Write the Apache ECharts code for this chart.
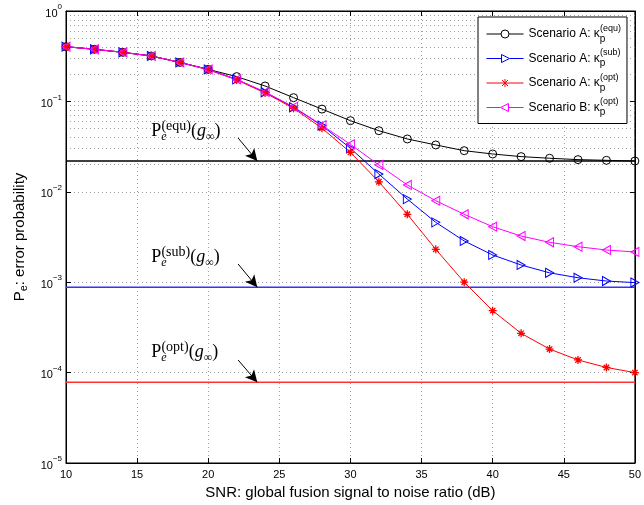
<!DOCTYPE html>
<html>
<head>
<meta charset="utf-8">
<script src="https://cdn.jsdelivr.net/npm/echarts@6/dist/echarts.min.js"></script>
<style>
  html, body { margin: 0; padding: 0; background: #fff; }
  #chart { width: 644px; height: 505px; }
</style>
</head>
<body>
<div id="chart"></div>
<script>
// 数据 - 读图估计
var snr = [10, 12, 14, 16, 18, 20, 22, 24, 26, 28, 30, 32, 34, 36, 38, 40, 42, 44, 46, 48, 50];

var equA = [0.403, 0.377, 0.349, 0.318, 0.270, 0.226, 0.188, 0.148, 0.110, 0.0822, 0.0612,
            0.0474, 0.0384, 0.0330, 0.0285, 0.0262, 0.0245, 0.0235, 0.0227, 0.0223, 0.0219];
var subA = [0.403, 0.377, 0.349, 0.318, 0.270, 0.226, 0.175, 0.126, 0.086, 0.054, 0.0303,
            0.0157, 0.0083, 0.00459, 0.00286, 0.0020, 0.00155, 0.00127, 0.00112, 0.00103, 0.00099];
var optA = [0.403, 0.377, 0.349, 0.318, 0.270, 0.224, 0.173, 0.124, 0.084, 0.0505, 0.0273,
            0.0129, 0.00564, 0.00231, 0.00100, 0.000484, 0.000272, 0.000182, 0.000138, 0.000114, 0.000100];
var optB = [0.403, 0.377, 0.349, 0.318, 0.270, 0.226, 0.175, 0.127, 0.087, 0.0545, 0.0335,
            0.0198, 0.0119, 0.00797, 0.00564, 0.00411, 0.00324, 0.00276, 0.00247, 0.00227, 0.00216];

// 渐近线 P_e(g_inf)
var limitNames = ['equ', 'sub', 'opt'];
var limitValues = [0.0219, 0.00088, 0.000078];
var limitColors = ['#000000', '#3333ff', '#ff3333'];

// 注释文字位置 + 箭头起止
var noteX = 16;
var noteY = [0.0365, 0.00147, 0.000131];
var arrowFromX = 22.1, arrowToX = 23.45;
var arrowFromY = [0.0394, 0.00159, 0.000138];

var xTicks = [10, 15, 20, 25, 30, 35, 40, 45, 50];
var yDecades = [-5, -4, -3, -2, -1, 0];

function pairs(ys) {
    var out = [];
    for (var i = 0; i < snr.length; i++) out.push([snr[i], ys[i]]);
    return out;
}

// 对数轴次网格 2..9
var minorGrid = [];
for (var d = 0; d < yDecades.length - 1; d++) {
    for (var m = 2; m <= 9; m++) {
        minorGrid.push({ yAxis: m * Math.pow(10, yDecades[d]) });
    }
}

var gridDot = { color: '#a0a0a0', width: 1, type: [1, 3] };
var font = 'Liberation Sans, Arial, sans-serif';

var legendRich = {
    t: { fontSize: 12, fontFamily: font, color: '#000', lineHeight: 20, verticalAlign: 'middle' },
    p: { fontSize: 10, fontFamily: font, color: '#000', lineHeight: 10, verticalAlign: 'bottom', width: 0.1 },
    s: { fontSize: 9, fontFamily: font, color: '#000', lineHeight: 10, verticalAlign: 'top' }
};

function legendLabel(name) {
    var parts = name.split('|');
    return '{t|' + parts[0] + '}{p|p}{s|(' + parts[1] + ')}';
}

var hollow = function (c) { return { color: 'rgba(0,0,0,0)', borderColor: c, borderWidth: 1 }; };
var starPath = 'path://M5,0 L5,10 M0,5 L10,5 M1.6,1.6 L8.4,8.4 M8.4,1.6 L1.6,8.4';
var rightTri = 'path://M0,0 L10,5 L0,10 Z';
var leftTri = 'path://M10,0 L0,5 L10,10 Z';

// 图例图标: 线 + 标记 (37x9)
var legCircle = 'path://M0,4.5 L14.5,4.5 M14.5,4.5 A4,4 0 1 1 22.5,4.5 A4,4 0 1 1 14.5,4.5 M22.5,4.5 L37,4.5';
var legRight = 'path://M0,4.5 L15,4.5 M15,0.5 L23,4.5 L15,8.5 Z M23,4.5 L37,4.5';
var legStar = 'path://M0,4.5 L37,4.5 M18.5,0.5 L18.5,8.5 M15.5,1.5 L21.5,7.5 M21.5,1.5 L15.5,7.5';
var legLeft = 'path://M0,4.5 L14,4.5 M22,0.5 L14,4.5 L22,8.5 Z M22,4.5 L37,4.5';

var series = [];

// 次网格
series.push({
    type: 'line', name: 'minor', data: [], z: 0, silent: true,
    markLine: { silent: true, z: 0, symbol: 'none', label: { show: false }, lineStyle: gridDot, data: minorGrid, animation: false }
});

// 渐近线 + 箭头
for (var k = 0; k < limitValues.length; k++) {
    series.push({
        type: 'line', name: 'lim_' + limitNames[k], z: 1, showSymbol: false, silent: true,
        data: [[10, limitValues[k]], [50, limitValues[k]]],
        lineStyle: { color: limitColors[k], width: 1.5 },
        markLine: {
            silent: true, z: 2, symbol: ['none', 'arrow'], symbolSize: [9, 12],
            label: { show: false },
            lineStyle: { color: '#000', width: 1, type: 'solid' },
            itemStyle: { color: '#000' },
            data: [[{ coord: [arrowFromX, arrowFromY[k]] }, { coord: [arrowToX, limitValues[k]] }]],
            animation: false
        }
    });
}

var mainSeries = [
    { name: 'Scenario A: κ|equ', ys: equA, color: '#000000', symbol: 'circle', size: 8, style: hollow('#000000'), icon: legCircle },
    { name: 'Scenario A: κ|sub', ys: subA, color: '#0000ff', symbol: rightTri, size: [8, 9], style: hollow('#0000ff'), icon: legRight },
    { name: 'Scenario A: κ|opt', ys: optA, color: '#ff0000', symbol: starPath, size: 8, style: { color: 'rgba(0,0,0,0)', borderColor: '#ff0000', borderWidth: 1.3 }, icon: legStar },
    { name: 'Scenario B: κ|opt', ys: optB, color: '#ff00ff', symbol: leftTri, size: [8, 9], style: hollow('#ff00ff'), icon: legLeft }
];

mainSeries.forEach(function (s) {
    series.push({
        type: 'line', name: s.name, z: 3,
        data: pairs(s.ys),
        symbol: s.symbol, symbolSize: s.size, showAllSymbol: true,
        lineStyle: { color: s.color, width: 1, type: 'solid' },
        itemStyle: s.style,
        color: s.color
    });
});

var chart = echarts.init(document.getElementById('chart'), null, { renderer: 'canvas' });

var option = {
    animation: false,
    backgroundColor: '#fff',
    textStyle: { fontFamily: font },
    grid: { left: 66, right: 3, top: 11, bottom: 42, show: true, borderColor: '#000', borderWidth: 1, backgroundColor: '#fff' },
    legend: {
        z: 10,
        data: mainSeries.map(function (s) {
            return {
                name: s.name,
                icon: s.icon,
                itemStyle: { color: 'rgba(0,0,0,0)', borderColor: s.color, borderWidth: 1 }
            };
        }),
        orient: 'vertical', left: 478, top: 17,
        padding: [7, 6, 6, 8], itemGap: 4.5,
        itemWidth: 37, itemHeight: 9,
        backgroundColor: '#fff', borderColor: '#000', borderWidth: 1, borderRadius: 0,
        selectedMode: false,
        formatter: legendLabel,
        textStyle: { rich: legendRich }
    },
    xAxis: [{
        type: 'value', min: 10, max: 50, interval: 5,
        name: 'SNR: global fusion signal to noise ratio (dB)',
        nameLocation: 'middle', nameGap: 20,
        nameTextStyle: { fontSize: 15, fontFamily: font, color: '#000' },
        axisLine: { lineStyle: { color: '#000', width: 1 } },
        axisTick: { inside: true, length: 5, lineStyle: { color: '#000' } },
        axisLabel: { fontSize: 11, color: '#000', margin: 6, fontFamily: font },
        splitLine: { show: true, lineStyle: gridDot }
    }, {
        type: 'value', min: 10, max: 50, interval: 5, position: 'top',
        axisLine: { lineStyle: { color: '#000', width: 1 } },
        axisTick: { inside: true, length: 5, lineStyle: { color: '#000' } },
        axisLabel: { show: false }, splitLine: { show: false }
    }],
    yAxis: [{
        type: 'log', logBase: 10, min: 1e-5, max: 1,
        name: '{a|P}{b|e}{a|: error probability}',
        nameLocation: 'middle', nameGap: 36,
        nameTextStyle: {
            rich: {
                a: { fontSize: 15, fontFamily: font, color: '#000', lineHeight: 20, verticalAlign: 'middle' },
                b: { fontSize: 11, fontFamily: font, color: '#000', lineHeight: 12, verticalAlign: 'bottom' }
            }
        },
        axisLine: { lineStyle: { color: '#000', width: 1 } },
        axisTick: { inside: true, length: 5, lineStyle: { color: '#000' } },
        axisLabel: {
            margin: 4, showMinLabel: true, showMaxLabel: true,
            formatter: function (v) {
                var e = Math.round(Math.log(v) / Math.LN10);
                return '{b|10}{e|' + (e === 0 ? '0' : '\u2212' + (-e)) + '}';
            },
            rich: {
                b: { fontSize: 11, fontFamily: font, color: '#000', lineHeight: 16, verticalAlign: 'bottom' },
                e: { fontSize: 8, fontFamily: font, color: '#000', lineHeight: 16, verticalAlign: 'top' }
            }
        },
        splitLine: { show: true, lineStyle: gridDot }
    }, {
        type: 'log', logBase: 10, min: 1e-5, max: 1, position: 'right',
        axisLine: { lineStyle: { color: '#000', width: 1 } },
        axisTick: { inside: true, length: 5, lineStyle: { color: '#000' } },
        axisLabel: { show: false }, splitLine: { show: false }
    }],
    series: series
};

chart.setOption(option);

// 注释文字 P_e^(x)(g_inf)
var noteFont = 'Liberation Serif, DejaVu Serif, serif';
var noteColor = '#3a3a3a';
var noteRich = {
    a: { fontSize: 18, fontFamily: noteFont, color: noteColor, lineHeight: 24, verticalAlign: 'middle' },
    g: { fontSize: 18, fontFamily: noteFont, fontStyle: 'italic', color: noteColor, lineHeight: 24, verticalAlign: 'middle' },
    e: { fontSize: 12, fontFamily: noteFont, fontStyle: 'italic', color: noteColor, lineHeight: 12, verticalAlign: 'bottom', width: 0.1 },
    s: { fontSize: 14, fontFamily: noteFont, color: noteColor, lineHeight: 12, verticalAlign: 'top' },
    i: { fontSize: 12, fontFamily: noteFont, color: noteColor, lineHeight: 12, verticalAlign: 'bottom' }
};
var notes = [];
for (var n = 0; n < limitNames.length; n++) {
    var pt = chart.convertToPixel({ gridIndex: 0 }, [noteX, noteY[n]]);
    notes.push({
        type: 'text', x: pt[0], y: pt[1] + 2, z: 10,
        style: {
            text: '{a|P}{e|e}{s|(' + limitNames[n] + ')}{a|(}{g|g}{i|\u221e}{a|)}',
            rich: noteRich, verticalAlign: 'bottom', align: 'left'
        }
    });
}
chart.setOption({ graphic: notes });
</script>
</body>
</html>
